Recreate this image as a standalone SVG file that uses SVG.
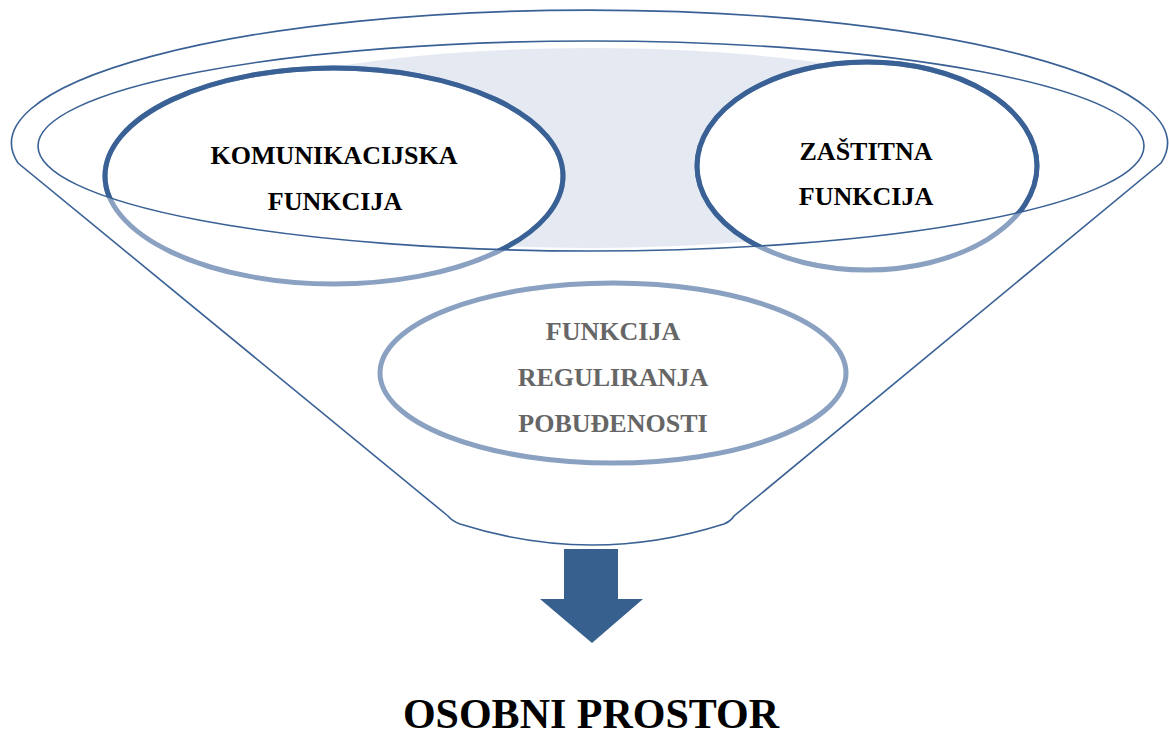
<svg xmlns="http://www.w3.org/2000/svg" width="1169" height="738" viewBox="0 0 1169 738">
<style>
.line{fill:none;stroke:#3a6195;stroke-width:1.6}
.lbl{font-family:"Liberation Serif","Times New Roman",serif;font-weight:bold;font-size:26px;text-anchor:middle;fill:#000}
.gray{fill:#666666}
.light{fill:#fff;stroke:#8aa1c1;stroke-width:5}
.dark{fill:none;stroke:#3a6195;stroke-width:5}
</style>
<defs>
<clipPath id="inner"><ellipse cx="591" cy="146" rx="553" ry="105"/></clipPath>
</defs>
<rect width="1169" height="738" fill="#fff"/>
<ellipse cx="591" cy="148" rx="438" ry="100" fill="#e4e9f2"/>
<g id="komunikacijska">
<ellipse class="light" cx="334" cy="176" rx="229" ry="108"/>
<ellipse class="dark" cx="334" cy="176" rx="229" ry="108" clip-path="url(#inner)"/>
<text class="lbl" x="334" y="164">KOMUNIKACIJSKA</text>
<text class="lbl" x="335" y="210">FUNKCIJA</text>
</g>
<g id="zastitna">
<ellipse class="light" cx="867" cy="166" rx="170" ry="104"/>
<ellipse class="dark" cx="867" cy="166" rx="170" ry="104" clip-path="url(#inner)"/>
<text class="lbl" x="866" y="160">ZAŠTITNA</text>
<text class="lbl" x="866" y="205">FUNKCIJA</text>
</g>
<g id="regulacija">
<ellipse class="light" cx="613" cy="373" rx="233" ry="90" stroke-width="4.5"/>
<text class="lbl gray" x="613" y="340">FUNKCIJA</text>
<text class="lbl gray" x="613" y="386">REGULIRANJA</text>
<text class="lbl gray" x="613" y="432">POBUĐENOSTI</text>
</g>
<g id="funnel">
<path class="line" d="M448,516 L18,163 A578,133 0 1 1 1161,163 L734,516 Q731,521 724,524 Q592,566 460,524 Q452,521 448,516 Z"/>
<ellipse class="line" cx="591" cy="146" rx="553" ry="105"/>
</g>
<g id="arrow">
<path d="M564,549 L618,549 L618,599 L643,599 L592,643 L540,599 L564,599 Z" fill="#37608f"/>
</g>
<g id="osobni">
<text x="591" y="728" font-family="Liberation Serif,'Times New Roman',serif" font-weight="bold" font-size="42" text-anchor="middle" fill="#000">OSOBNI PROSTOR</text>
</g>
</svg>
